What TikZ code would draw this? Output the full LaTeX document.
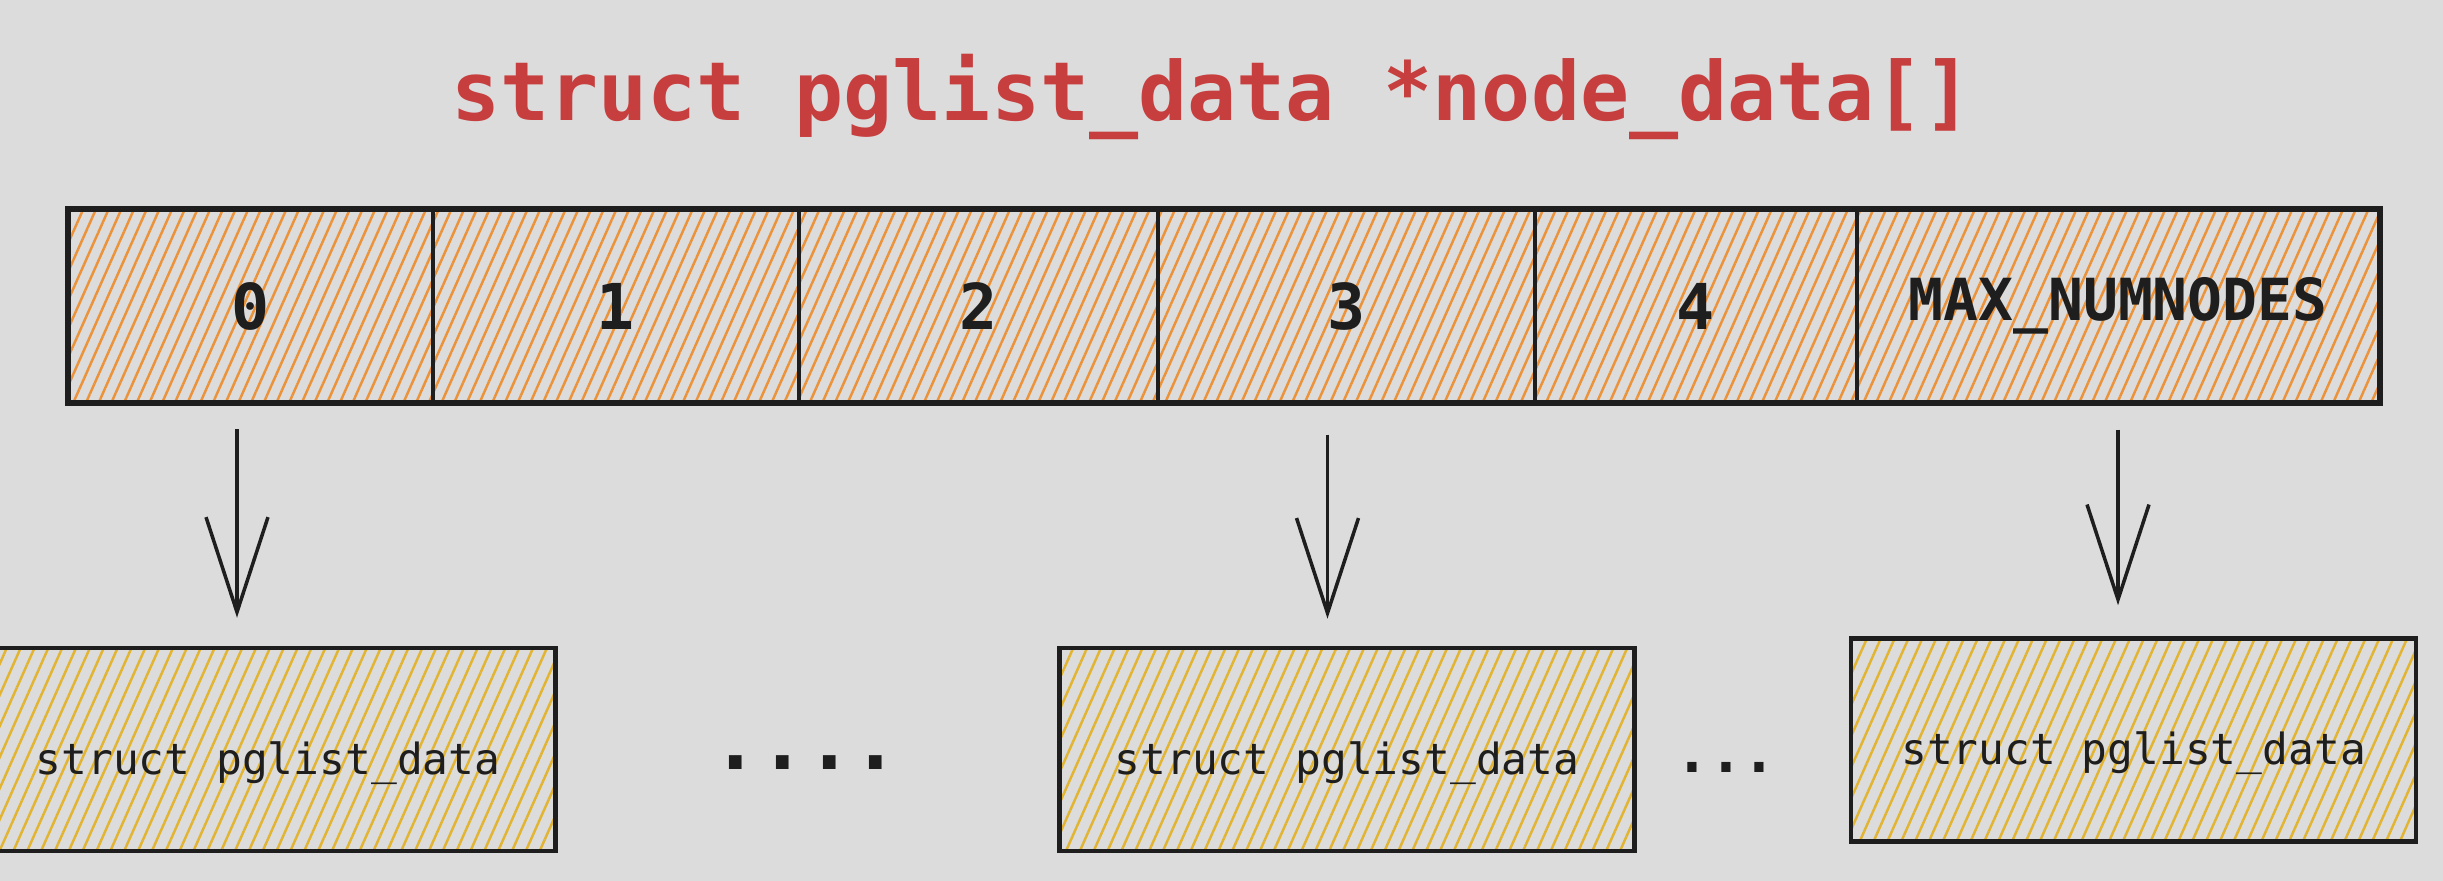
\documentclass[tikz,border=0pt]{standalone}
\usepackage{fontspec}
\setmonofont{DejaVu Sans Mono}
\usetikzlibrary{patterns.meta,arrows.meta}
\definecolor{bggray}{RGB}{220,220,220}
\definecolor{titlered}{RGB}{199,62,62}
\definecolor{hatchorange}{RGB}{236,146,56}
\definecolor{hatchyellow}{RGB}{226,180,48}
\definecolor{inkblack}{RGB}{30,30,30}
\tikzset{
  cell/.style={draw=inkblack, line width=1pt, minimum height=1.92cm, inner sep=0pt,
    pattern={Lines[angle=66,distance=3.3pt,line width=0.7pt]}, pattern color=hatchorange,
    font=\ttfamily\bfseries\fontsize{18}{21}\selectfont, text=inkblack},
  sbox/.style={draw=inkblack, line width=1.3pt, minimum width=5.75cm, minimum height=2.03cm,
    text height=17pt, text depth=3pt,
    pattern={Lines[angle=66,distance=3.6pt,line width=0.7pt]}, pattern color=hatchyellow,
    font=\ttfamily\fontsize{12.2}{14}\selectfont, text=inkblack},
  ptr/.style={-{Straight Barb[length=9.5mm,width=6.2mm]}, line width=1pt, draw=inkblack},
}
\begin{document}
\begin{tikzpicture}
  \useasboundingbox (0,0) rectangle (24.43,8.81);
  \fill[bggray] (0,0) rectangle (24.43,8.81);

  \node[font=\ttfamily\bfseries\fontsize{23.2}{26}\selectfont, text=titlered, anchor=base] (title) at (12.12,7.6) {struct pglist\_data *node\_data[]};

  % the array
  \node[cell, minimum width=3.64cm] (c0) at (2.51,5.75) {0};
  \node[cell, minimum width=3.66cm] (c1) at (6.16,5.75) {1};
  \node[cell, minimum width=3.59cm] (c2) at (9.785,5.75) {2};
  \node[cell, minimum width=3.77cm] (c3) at (13.465,5.75) {3};
  \node[cell, minimum width=3.22cm] (c4) at (16.96,5.75) {4};
  \node[cell, minimum width=5.22cm, font=\ttfamily\bfseries\fontsize{16.5}{19}\selectfont] (cmax) at (21.18,5.75) {MAX\_NUMNODES};
  \draw[inkblack, line width=1.4pt] (c0.north west) rectangle (cmax.south east);

  % the structs
  \node[sbox] (s0) at (2.68,1.315) {struct pglist\_data};
  \node[sbox] (s3) at (13.47,1.315) {struct pglist\_data};
  \node[sbox, minimum width=5.65cm] (smax) at (21.335,1.41) {struct pglist\_data};

  \node[font=\ttfamily\bfseries\fontsize{22}{24}\selectfont, text=inkblack] (gap1) at (8.06,1.18) {....};
  \node[font=\ttfamily\bfseries\fontsize{16}{18}\selectfont, text=inkblack] (gap2) at (17.26,1.14) {...};

  \draw[ptr, shorten <=2.6mm, shorten >=2.9mm] ([xshift=-1.4mm]c0.south) -- ([xshift=-1.4mm]c0.south |- s0.north);
  \draw[ptr, shorten <=3.1mm, shorten >=2.7mm] ([xshift=-1.9mm]c3.south) -- ([xshift=-1.9mm]c3.south |- s3.north);
  \draw[ptr, shorten <=2.6mm, shorten >=3.1mm] (cmax.south) -- (cmax.south |- smax.north);
\end{tikzpicture}
\end{document}
